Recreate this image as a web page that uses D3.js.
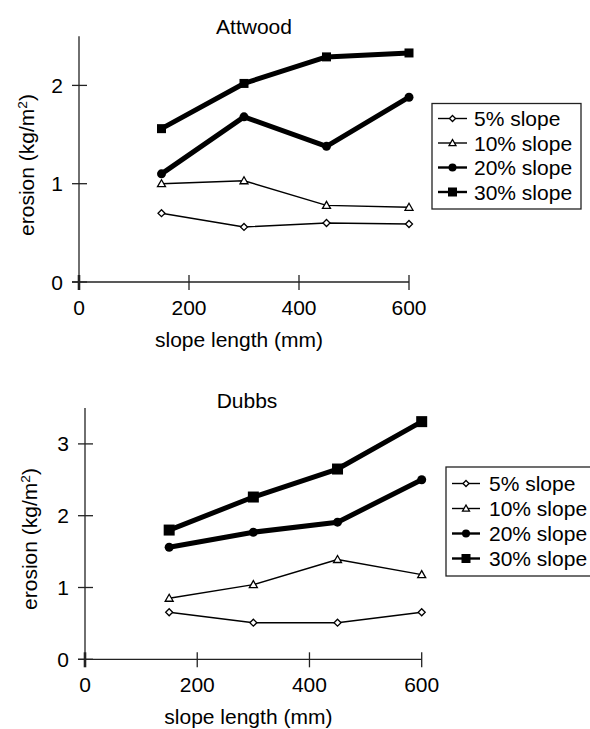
<!DOCTYPE html>
<html>
<head>
<meta charset="utf-8">
<script src="https://cdn.jsdelivr.net/npm/d3@7"></script>
<style>
  html, body { margin: 0; padding: 0; background: #fff; }
  svg { display: block; }
  text { font-family: "Liberation Sans", Arial, Helvetica, sans-serif; fill: #000; }
</style>
</head>
<body>
<svg id="chart" width="590" height="729"></svg>
<script>
// ---- data ----
const slopeLengths = [150, 300, 450, 600];
const seriesNames = ["5% slope", "10% slope", "20% slope", "30% slope"];
const xTicks = [0, 200, 400, 600];

const attwood5  = [0.70, 0.56, 0.60, 0.59];
const attwood10 = [1.00, 1.03, 0.78, 0.76];
const attwood20 = [1.10, 1.68, 1.38, 1.88];
const attwood30 = [1.56, 2.02, 2.29, 2.33];
const attwoodYTicks = [0, 1, 2];

const dubbs5  = [0.655, 0.51, 0.51, 0.655];
const dubbs10 = [0.85, 1.04, 1.39, 1.18];
const dubbs20 = [1.56, 1.77, 1.91, 2.50];
const dubbs30 = [1.80, 2.26, 2.65, 3.31];
const dubbsYTicks = [0, 1, 2, 3];

// ---- styles per series ----
const seriesStyle = [
  { marker: "diamond",  width: 1.4, legendWidth: 1.4, size: 7,  legendSize: 6 },
  { marker: "triangle", width: 1.4, legendWidth: 1.4, size: 8,  legendSize: 7 },
  { marker: "circle",   width: 5,   legendWidth: 2.4, size: 9,  legendSize: 8 },
  { marker: "square",   width: 5,   legendWidth: 2.4, size: 9,  legendSize: 9 }
];

const svg = d3.select("#chart");
const FONT = 21;
const AX = "#222";

function drawMarker(g, type, cx, cy, s) {
  if (type === "diamond") {
    const h = s / 2;
    g.append("path").attr("d", `M${cx},${cy - h}L${cx + h},${cy}L${cx},${cy + h}L${cx - h},${cy}Z`)
      .attr("fill", "#fff").attr("stroke", "#000").attr("stroke-width", 1.3);
  } else if (type === "triangle") {
    const h = s / 2;
    g.append("path").attr("d", `M${cx},${cy - h}L${cx + h},${cy + h * 0.75}L${cx - h},${cy + h * 0.75}Z`)
      .attr("fill", "#fff").attr("stroke", "#000").attr("stroke-width", 1.3);
  } else if (type === "circle") {
    g.append("circle").attr("cx", cx).attr("cy", cy).attr("r", s / 2).attr("fill", "#000");
  } else {
    g.append("rect").attr("x", cx - s / 2).attr("y", cy - s / 2).attr("width", s).attr("height", s).attr("fill", "#000");
  }
}

function panel(cfg) {
  const x = d3.scaleLinear().domain([0, 600]).range([cfg.x0, cfg.x1]);
  const y = d3.scaleLinear().domain([0, cfg.yMax]).range([cfg.y0, cfg.yTop]);
  const g = svg.append("g");

  // axis lines
  g.append("line").attr("x1", cfg.x0).attr("x2", cfg.x0).attr("y1", y(cfg.yMax)).attr("y2", cfg.y0)
    .attr("stroke", AX).attr("stroke-width", 1.3);
  g.append("line").attr("x1", cfg.x0 - 7).attr("x2", x(600)).attr("y1", cfg.y0).attr("y2", cfg.y0)
    .attr("stroke", AX).attr("stroke-width", 1.3);

  // y ticks (crossing)
  cfg.yTicks.forEach(v => {
    g.append("line").attr("x1", cfg.x0 - 7).attr("x2", cfg.x0 + 8).attr("y1", y(v)).attr("y2", y(v))
      .attr("stroke", AX).attr("stroke-width", 1.3);
    g.append("text").attr("x", cfg.x0 - 16).attr("y", y(v)).attr("dy", "0.36em")
      .attr("text-anchor", "end").attr("font-size", FONT).text(v);
  });
  // x ticks (crossing)
  xTicks.forEach(v => {
    g.append("line").attr("x1", x(v)).attr("x2", x(v)).attr("y1", cfg.y0 - 7).attr("y2", cfg.y0 + 8)
      .attr("stroke", AX).attr("stroke-width", v === 0 ? 2.6 : 1.3);
    g.append("text").attr("x", x(v)).attr("y", cfg.y0 + 25).attr("dy", "0.36em")
      .attr("text-anchor", "middle").attr("font-size", FONT).text(v);
  });

  // titles
  g.append("text").attr("x", cfg.titleX).attr("y", cfg.titleY).attr("dy", "0.36em")
    .attr("text-anchor", "middle").attr("font-size", FONT).text(cfg.title);
  g.append("text").attr("x", (cfg.x0 + x(600)) / 2 - 5).attr("y", cfg.y0 + 57.5).attr("dy", "0.36em")
    .attr("text-anchor", "middle").attr("font-size", FONT).text("slope length (mm)");
  const yl = g.append("text").attr("transform", `translate(${cfg.yLabelX},${cfg.yLabelY}) rotate(-90)`)
    .attr("text-anchor", "middle").attr("dy", "0.36em").attr("font-size", FONT);
  yl.append("tspan").text("erosion (kg/m");
  yl.append("tspan").attr("baseline-shift", "super").attr("font-size", FONT * 0.65).text("2");
  yl.append("tspan").text(")");

  // series
  const line = d3.line().x((d, i) => x(slopeLengths[i])).y(d => y(d));
  cfg.series.forEach((vals, k) => {
    const st = seriesStyle[k];
    g.append("path").datum(vals).attr("d", line).attr("fill", "none")
      .attr("stroke", "#000").attr("stroke-width", st.width).attr("stroke-linejoin", "round");
  });
  cfg.series.forEach((vals, k) => {
    const st = seriesStyle[k];
    const sz = k === 3 ? cfg.squareSize : st.size;
    vals.forEach((v, i) => drawMarker(g, st.marker, x(slopeLengths[i]), y(v), sz));
  });

  // legend
  const L = cfg.legend;
  g.append("rect").attr("x", L.x).attr("y", L.y).attr("width", L.w).attr("height", L.h)
    .attr("fill", "#fff").attr("stroke", AX).attr("stroke-width", 1.3);
  seriesNames.forEach((name, k) => {
    const st = seriesStyle[k];
    const ry = L.rowY + k * L.rowH;
    g.append("line").attr("x1", L.lx0).attr("x2", L.lx1).attr("y1", ry).attr("y2", ry)
      .attr("stroke", "#000").attr("stroke-width", st.legendWidth);
    drawMarker(g, st.marker, (L.lx0 + L.lx1) / 2, ry, st.legendSize);
    g.append("text").attr("x", L.tx).attr("y", ry).attr("dy", "0.36em")
      .attr("font-size", FONT).text(name);
  });
}

panel({
  title: "Attwood", titleX: 254, titleY: 26,
  x0: 79, x1: 409, y0: 282, yTop: 36.25, yMax: 2.5,
  yTicks: attwoodYTicks,
  yLabelX: 26, yLabelY: 165,
  series: [attwood5, attwood10, attwood20, attwood30],
  squareSize: 9,
  legend: { x: 432, y: 103.5, w: 149, h: 105.5, rowY: 118.5, rowH: 24.5, lx0: 438, lx1: 467, tx: 474 }
});

panel({
  title: "Dubbs", titleX: 247, titleY: 400,
  x0: 85, x1: 421.7, y0: 659.3, yTop: 408, yMax: 3.5,
  yTicks: dubbsYTicks,
  yLabelX: 29.5, yLabelY: 539,
  series: [dubbs5, dubbs10, dubbs20, dubbs30],
  squareSize: 11,
  legend: { x: 446, y: 467, w: 150, h: 109, rowY: 483.5, rowH: 25, lx0: 452, lx1: 480, tx: 489 }
});
</script>
</body>
</html>
